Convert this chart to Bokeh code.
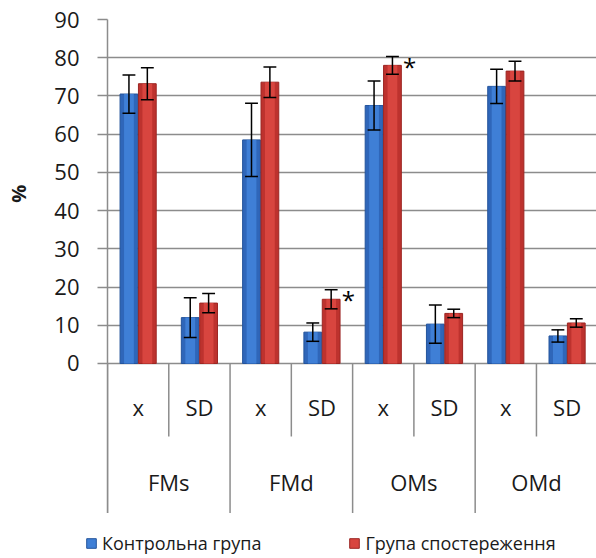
from bokeh.plotting import figure
from bokeh.models import Range1d, FixedTicker, ColumnDataSource, Legend, LegendItem
from bokeh.core.properties import value
from bokeh.embed import file_html
from bokeh.resources import INLINE

# ---- data ----
groups = ["FMs", "FMd", "OMs", "OMd"]
subs = ["x", "SD"]
series_names = ["Контрольна група", "Група спостереження"]
control = [70.5, 12.0, 58.5, 8.2, 67.5, 10.3, 72.5, 7.2]
control_err = [5.0, 5.2, 9.6, 2.4, 6.4, 5.0, 4.5, 1.6]
observed = [73.2, 15.8, 73.6, 16.8, 78.0, 13.1, 76.5, 10.6]
observed_err = [4.2, 2.5, 4.0, 2.5, 2.3, 1.1, 2.6, 1.1]
star_items = [3, 4]          # categories where the observation group is marked "*"
y_ticks = [0, 10, 20, 30, 40, 50, 60, 70, 80, 90]
y_label = "%"

FONT = "Open Sans"
GRAY = "#8c8c8c"
BLUE, BLUE_LIGHT, BLUE_EDGE = "#2f66b9", "#3f7fd6", "#24549c"
RED, RED_LIGHT, RED_EDGE = "#bd322e", "#d8453f", "#9c2623"

n = len(groups) * len(subs)
centers = [i + 0.5 for i in range(n)]
sub_labels = [s for g in groups for s in subs]
off, bw, cap = 0.15, 0.29, 0.105

p = figure(width=596, height=513, output_backend="svg", toolbar_location=None,
           x_range=Range1d(0, 7.98), y_range=Range1d(-39.25, 90),
           x_axis_type=None,
           min_border_left=107, min_border_right=0, min_border_top=19, min_border_bottom=0)
p.outline_line_color = None
p.background_fill_color = "white"
p.border_fill_color = "white"

# y axis
p.yaxis.ticker = FixedTicker(ticks=y_ticks)
p.ygrid.ticker = FixedTicker(ticks=y_ticks)
p.xgrid.visible = False
p.ygrid.grid_line_color = GRAY
p.ygrid.grid_line_width = 1.5
p.yaxis.axis_line_color = GRAY
p.yaxis.axis_line_width = 1.5
p.yaxis.major_tick_line_color = GRAY
p.yaxis.major_tick_line_width = 1.5
p.yaxis.major_tick_out = 10
p.yaxis.major_tick_in = 0
p.yaxis.minor_tick_line_color = None
p.yaxis.major_label_standoff = 18
p.yaxis.major_label_text_font = FONT
p.yaxis.major_label_text_font_size = "22px"
p.yaxis.major_label_text_color = "#1a1a1a"
# the axis spans the category area too; non-breaking padding lifts "%" to the 0-90 band
p.yaxis.axis_label = "\u00a0" * 28 + y_label
p.yaxis.axis_label_standoff = 19
p.yaxis.axis_label_text_font = FONT
p.yaxis.axis_label_text_font_size = "20px"
p.yaxis.axis_label_text_font_style = "bold"
p.yaxis.axis_label_text_color = "#1a1a1a"

# bars
src = ColumnDataSource(dict(
    xc=[c - off for c in centers], xo=[c + off for c in centers],
    c=control, o=observed,
    c_lo=[v - e for v, e in zip(control, control_err)],
    c_hi=[v + e for v, e in zip(control, control_err)],
    o_lo=[v - e for v, e in zip(observed, observed_err)],
    o_hi=[v + e for v, e in zip(observed, observed_err)],
    xc_l=[c - off - cap for c in centers], xc_r=[c - off + cap for c in centers],
    xo_l=[c + off - cap for c in centers], xo_r=[c + off + cap for c in centers],
))
p.vbar(x="xc", top="c", bottom=0, width=bw, source=src,
       fill_color=BLUE, line_color=BLUE_EDGE, line_width=1)
p.vbar(x="xc", top="c", bottom=0, width=bw * 0.55, source=src,
       fill_color=BLUE_LIGHT, line_color=None)
p.vbar(x="xo", top="o", bottom=0, width=bw, source=src,
       fill_color=RED, line_color=RED_EDGE, line_width=1)
p.vbar(x="xo", top="o", bottom=0, width=bw * 0.55, source=src,
       fill_color=RED_LIGHT, line_color=None)

# error bars
for xk, lo, hi, l, r in (("xc", "c_lo", "c_hi", "xc_l", "xc_r"),
                         ("xo", "o_lo", "o_hi", "xo_l", "xo_r")):
    p.segment(x0=xk, y0=lo, x1=xk, y1=hi, source=src, line_color="black", line_width=1.5)
    p.segment(x0=l, y0=hi, x1=r, y1=hi, source=src, line_color="black", line_width=1.5)
    p.segment(x0=l, y0=lo, x1=r, y1=lo, source=src, line_color="black", line_width=1.5)

# significance stars
p.text(x=[centers[i] + off + 0.28 for i in star_items],
       y=[observed[i] + observed_err[i] - 1 for i in star_items],
       text=["*"] * len(star_items), text_align="center", text_baseline="middle",
       text_font=value(FONT), text_font_size="24px", text_color="black", y_offset=6)

# category axis (two levels) drawn inside the extended frame
bounds_sub = [2 * g + 1 for g in range(len(groups))]
bounds_grp = [2 * g for g in range(len(groups) + 1)]
p.segment(x0=bounds_sub, y0=[0] * len(bounds_sub), x1=bounds_sub, y1=[-19.1] * len(bounds_sub),
          line_color=GRAY, line_width=1.5)
p.segment(x0=bounds_grp, y0=[0] * len(bounds_grp), x1=bounds_grp, y1=[-39.25] * len(bounds_grp),
          line_color=GRAY, line_width=1.5)
p.text(x=centers, y=[-11.4] * n, text=sub_labels, text_align="center", text_baseline="middle",
       text_font=value(FONT), text_font_size="22px", text_color="#1a1a1a")
p.text(x=[2 * g + 1 for g in range(len(groups))], y=[-30.9] * len(groups), text=groups,
       text_align="center", text_baseline="middle",
       text_font=value(FONT), text_font_size="22px", text_color="#1a1a1a")

# legend strip below the chart (separate root so its frame is not aligned to the chart's)
q = figure(width=596, height=45, output_backend="svg", toolbar_location=None,
           x_range=Range1d(0, 1), y_range=Range1d(0, 1),
           x_axis_type=None, y_axis_type=None,
           min_border_left=0, min_border_right=0, min_border_top=0, min_border_bottom=0)
q.outline_line_color = None
q.xgrid.visible = False
q.ygrid.visible = False
hidden = ColumnDataSource(dict(x=[0.5], top=[0.0]))
lc = q.vbar(x="x", top="top", bottom=0, width=0, source=hidden,
            fill_color=BLUE_LIGHT, line_color=BLUE_EDGE)
lo_ = q.vbar(x="x", top="top", bottom=0, width=0, source=hidden,
             fill_color=RED_LIGHT, line_color=RED_EDGE)
lg = Legend(items=[LegendItem(label=series_names[0], renderers=[lc]),
                   LegendItem(label=series_names[1], renderers=[lo_])],
            location=(85, 3), orientation="horizontal", padding=0, margin=0, spacing=87,
            border_line_color=None, background_fill_alpha=0,
            glyph_width=12, glyph_height=12, label_standoff=5,
            label_text_font=FONT, label_text_font_size="18px", label_text_color="#1a1a1a")
q.add_layout(lg, "center")

open("out.html", "w").write(file_html([p, q], INLINE))
